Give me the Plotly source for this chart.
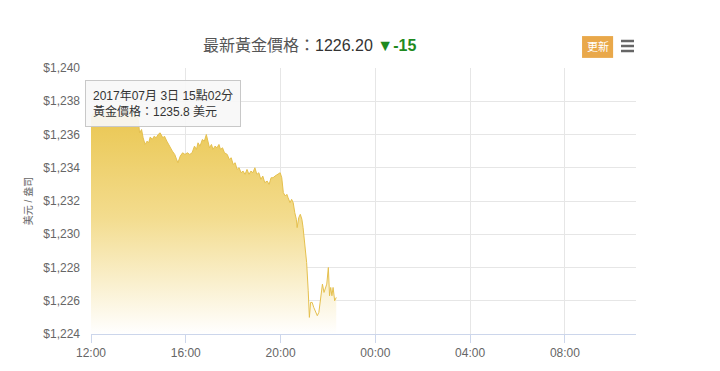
import plotly.graph_objects as go

DAY = "2017-07-03 "
NEXT = "2017-07-04 "

times = ["12:00","12:06","12:12","12:20","12:28","12:36","12:44","12:52","13:00","13:08","13:16","13:24",
         "13:32","13:40","13:48","13:56","13:59","14:03","14:08","14:12","14:17","14:22","14:26","14:30",
         "14:35","14:40","14:45","14:50","14:55","15:02","15:06","15:12","15:20","15:26","15:32","15:40",
         "15:46","15:52","15:58","16:04","16:10","16:16","16:22","16:27","16:31","16:36","16:42","16:47",
         "16:52","16:56","17:00","17:05","17:09","17:14","17:19","17:24","17:28","17:33","17:38","17:45",
         "17:50","17:55","18:00","18:05","18:10","18:15","18:20","18:25","18:30","18:35","18:40","18:45",
         "18:50","18:55","19:00","19:05","19:10","19:15","19:20","19:26","19:31","19:36","19:41","19:46",
         "19:52","19:59","20:03","20:07","20:12","20:16","20:19","20:24","20:28","20:32","20:36","20:40",
         "20:42","20:46","20:50","20:54","20:57","21:02","21:06","21:10","21:13","21:16","21:20","21:24",
         "21:28","21:33","21:37","21:42","21:46","21:50","21:53","21:57","22:01","22:04","22:07","22:10",
         "22:13","22:17","22:21"]

prices = [1237.0,1237.3,1237.1,1237.4,1237.2,1237.5,1237.3,1237.6,1237.4,1237.2,1237.5,1237.3,
          1237.6,1237.4,1237.2,1237.1,1237.05,1236.1,1236.3,1235.8,1235.4,1235.6,1235.5,1235.85,
          1235.7,1235.9,1235.8,1236.0,1236.1,1235.8,1235.9,1235.6,1235.2,1235.0,1234.8,1234.3,
          1234.7,1234.9,1234.8,1234.9,1234.8,1234.9,1235.3,1235.1,1235.5,1235.3,1235.7,1235.6,
          1236.0,1235.6,1235.2,1235.4,1235.1,1235.3,1235.2,1235.4,1235.1,1235.2,1234.9,1234.8,
          1234.5,1234.6,1234.2,1234.3,1233.9,1234.0,1233.7,1233.8,1233.6,1233.9,1233.6,1233.8,
          1233.7,1234.0,1233.6,1233.7,1233.3,1233.5,1233.1,1233.2,1233.0,1233.4,1233.4,1233.5,
          1233.6,1233.7,1233.4,1232.5,1232.3,1232.4,1232.2,1231.9,1232.1,1231.9,1231.3,1230.9,
          1230.4,1231.0,1231.2,1230.9,1230.4,1229.3,1228.3,1226.6,1225.0,1225.9,1225.9,1225.6,
          1225.4,1225.1,1225.3,1226.3,1227.0,1226.5,1226.7,1227.0,1228.0,1226.3,1226.8,1226.3,
          1226.8,1226.0,1226.2]

y_ticks = [1224, 1226, 1228, 1230, 1232, 1234, 1236, 1238, 1240]
y_ticklabels = ["$1,224", "$1,226", "$1,228", "$1,230", "$1,232", "$1,234", "$1,236", "$1,238", "$1,240"]
x_ticks = [DAY + "12:00", DAY + "16:00", DAY + "20:00", NEXT + "00:00", NEXT + "04:00", NEXT + "08:00"]
x_ticklabels = ["12:00", "16:00", "20:00", "00:00", "04:00", "08:00"]

latest_price = "1226.20"
change = "-15"
tip_time = "15:02"
tip_price = 1235.8

FONT = "Liberation Sans, Arial, Noto Sans CJK TC, sans-serif"

x = [DAY + t for t in times]

fig = go.Figure()
fig.add_trace(go.Scatter(
    x=x, y=prices, mode="lines",
    line=dict(color="#e5c04e", width=1),
    fill="tozeroy",
    fillgradient=dict(type="vertical", start=1224, stop=1238,
                      colorscale=[[0, "rgba(255,255,255,1)"], [0.5, "#f3dc8e"], [1, "#e9c44a"]]),
    hoverinfo="skip", showlegend=False,
))

fig.update_layout(
    width=720, height=371,
    margin=dict(l=91, r=84, t=68, b=37),
    paper_bgcolor="white", plot_bgcolor="white",
    font=dict(family=FONT, color="#666", size=12),
    xaxis=dict(range=[DAY + "12:00", NEXT + "11:00"], tickvals=x_ticks, ticktext=x_ticklabels,
               showgrid=True, gridcolor="#e6e6e6", gridwidth=1,
               showline=True, linecolor="#ccd6eb", linewidth=1,
               ticks="outside", ticklen=8, tickcolor="#ccd6eb",
               tickfont=dict(size=12, color="#666"), zeroline=False, fixedrange=True),
    yaxis=dict(range=[1224, 1240], tickvals=y_ticks, ticktext=y_ticklabels,
               showgrid=True, gridcolor="#e6e6e6", gridwidth=1, zeroline=False,
               tickfont=dict(size=12, color="#666"), ticks="", ticklabelstandoff=10,
               title=dict(text="美元 / 盎司", font=dict(size=10, color="#666"), standoff=8)),
)

# Title
fig.add_annotation(
    xref="paper", yref="paper", x=0.4, y=1.083, xanchor="center", yanchor="middle", showarrow=False,
    text=("<span style='color:#555'>最新黃金價格：</span>"
          f"<span style='color:#333'>{latest_price}</span> "
          f"<span style='color:#1f8a1f'><b>▼{change}</b></span>"),
    font=dict(size=16, family=FONT),
)

# Update button and menu icon
fig.add_shape(type="rect", xref="paper", yref="paper", x0=0.901, x1=0.958, y0=1.038, y1=1.120,
              fillcolor="#e9a84a", line=dict(width=0), layer="above")
fig.add_annotation(xref="paper", yref="paper", x=0.9295, y=1.079, showarrow=False, text="更新",
                   font=dict(size=11, color="white", family=FONT), xanchor="center", yanchor="middle")
for yy in [1.1015, 1.0827, 1.0639]:
    fig.add_shape(type="line", xref="paper", yref="paper", x0=0.9725, x1=0.9963, y0=yy, y1=yy,
                  line=dict(color="#666", width=2.5))

# Tooltip
fig.add_annotation(
    x=DAY + tip_time, y=tip_price, showarrow=False, xanchor="center", yanchor="bottom", yshift=11,
    text=f"2017年07月 3日 15點02分<br>黃金價格：{tip_price} 美元",
    align="left", font=dict(size=12, color="#333", family=FONT),
    bgcolor="rgba(247,247,247,0.92)", bordercolor="#c8c8c8", borderwidth=1, borderpad=7,
)

fig.write_html("out.html")
